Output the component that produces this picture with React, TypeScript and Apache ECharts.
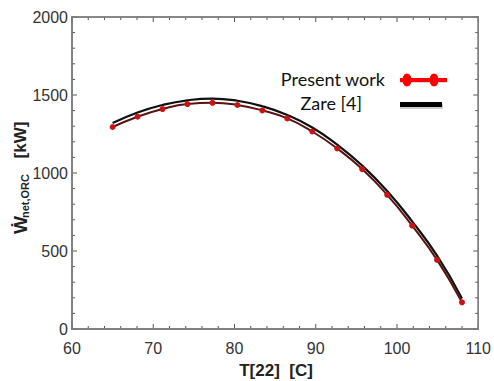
import React, { useEffect, useRef } from "react";
import * as echarts from "echarts";

const temperatures = [65, 68.07, 71.14, 74.21, 77.29, 80.36, 83.43, 86.5, 89.57, 92.64, 95.71, 98.79, 101.86, 104.93, 108];
const presentWork = [1295, 1361, 1410, 1442, 1450, 1436, 1401, 1350, 1266, 1157, 1025, 860, 663, 443, 171];
const zare = [1320, 1388, 1436, 1466, 1477, 1463, 1428, 1372, 1292, 1182, 1048, 885, 690, 470, 196];
const xRange = { min: 60, max: 110, interval: 10 };
const yRange = { min: 0, max: 2000, interval: 500 };
const xMinorStep = 2;
const yMinorStep = 100;

export default function App() {
  const ref = useRef<HTMLDivElement>(null);
  useEffect(() => {
    document.body.style.margin = "0";
    if (!ref.current) return;
    const chart = echarts.init(ref.current, null, { renderer: "svg" });
    const font = "Arial";

    const xTickVals: number[][] = [];
    for (let v = xRange.min; v <= xRange.max; v += xMinorStep) xTickVals.push([v, yRange.min]);
    const yTickVals: number[][] = [];
    for (let v = yRange.min; v <= yRange.max; v += yMinorStep) yTickVals.push([xRange.min, v]);

    const tickStyle = { stroke: "#555", lineWidth: 1 };

    chart.setOption({
      animation: false,
      grid: { left: 72, right: 14, top: 17, bottom: 52, show: true, borderColor: "#808080", borderWidth: 1.5 },
      xAxis: {
        type: "value", ...xRange,
        axisLine: { show: true, onZero: false, lineStyle: { color: "#808080", width: 1.5 } },
        axisTick: { show: false },
        splitLine: { show: false },
        axisLabel: { margin: 11, fontSize: 16, color: "#333", fontFamily: font, formatter: (v: number) => String(v) },
      },
      yAxis: {
        type: "value", ...yRange,
        axisLine: { show: true, onZero: false, lineStyle: { color: "#808080", width: 1.5 } },
        axisTick: { show: false },
        splitLine: { show: false },
        axisLabel: { margin: 4, fontSize: 16, color: "#333", fontFamily: font, formatter: (v: number) => String(v) },
      },
      series: [
        {
          name: "xTicks",
          type: "custom",
          silent: true,
          clip: false,
          data: xTickVals,
          renderItem: (params: any, api: any) => {
            const v = api.value(0);
            const x = api.coord([v, yRange.min])[0];
            const cs = params.coordSys;
            const len = v % 10 === 0 ? 5 : 3;
            return {
              type: "group",
              children: [
                { type: "line", shape: { x1: x, y1: cs.y + cs.height, x2: x, y2: cs.y + cs.height - len }, style: tickStyle },
                { type: "line", shape: { x1: x, y1: cs.y, x2: x, y2: cs.y + len }, style: tickStyle },
              ],
            };
          },
        },
        {
          name: "yTicks",
          type: "custom",
          silent: true,
          clip: false,
          data: yTickVals,
          renderItem: (params: any, api: any) => {
            const v = api.value(1);
            const y = api.coord([xRange.min, v])[1];
            const cs = params.coordSys;
            const len = v % 500 === 0 ? 5 : 3;
            return {
              type: "group",
              children: [
                { type: "line", shape: { x1: cs.x, y1: y, x2: cs.x + len, y2: y }, style: tickStyle },
                { type: "line", shape: { x1: cs.x + cs.width, y1: y, x2: cs.x + cs.width - len, y2: y }, style: tickStyle },
              ],
            };
          },
        },
        {
          name: "frame",
          type: "custom",
          silent: true,
          clip: false,
          data: [[xRange.min, yRange.min]],
          renderItem: (params: any) => {
            const cs = params.coordSys;
            return {
              type: "rect",
              shape: { x: cs.x, y: cs.y, width: cs.width, height: cs.height },
              style: { fill: "none", stroke: "#808080", lineWidth: 1.5 },
            };
          },
        },
        {
          name: "Zare [4]",
          type: "line",
          smooth: true,
          symbol: "none",
          data: temperatures.map((t, i) => [t, zare[i]]),
          lineStyle: { color: "#111", width: 2.2 },
        },
        {
          name: "Present work",
          type: "line",
          smooth: true,
          symbol: "circle",
          symbolSize: 6,
          data: temperatures.map((t, i) => [t, presentWork[i]]),
          lineStyle: { color: "#5a1212", width: 2 },
          itemStyle: { color: "#c81414", borderWidth: 0 },
        },
      ],
      graphic: [
        {
          type: "text", x: 20, y: 225, rotation: Math.PI / 2,
          style: { text: "Ẇ", align: "center", verticalAlign: "middle", fontSize: 19, fontWeight: "bold", fontFamily: font, fill: "#222" },
        },
        {
          type: "text", x: 25, y: 196, rotation: Math.PI / 2,
          style: { text: "net,ORC", align: "center", verticalAlign: "middle", fontSize: 11, fontWeight: "bold", fontFamily: font, fill: "#222" },
        },
        {
          type: "text", x: 20, y: 140, rotation: Math.PI / 2,
          style: { text: "[kW]", align: "center", verticalAlign: "middle", fontSize: 17, fontWeight: "bold", fontFamily: font, fill: "#222" },
        },
        {
          type: "text", x: 276, y: 370,
          style: { text: "T[22]  [C]", align: "center", verticalAlign: "middle", fontSize: 17, fontWeight: "bold", fontFamily: font, fill: "#222" },
        },
        {
          type: "text", x: 385, y: 79,
          style: { text: "Present work", align: "right", verticalAlign: "middle", fontSize: 18, fontFamily: "Lato", fill: "#111" },
        },
        {
          type: "text", x: 362, y: 103,
          style: { text: "Zare [4]", align: "right", verticalAlign: "middle", fontSize: 18, fontFamily: "Lato", fill: "#111" },
        },
        { type: "rect", shape: { x: 400, y: 79, width: 47, height: 4 }, style: { fill: "rgba(0,0,0,0.15)" } },
        { type: "rect", shape: { x: 400, y: 78, width: 47, height: 4 }, style: { fill: "#ff0000" } },
        { type: "ellipse", shape: { cx: 407, cy: 80, rx: 4.5, ry: 6.5 }, style: { fill: "#ff0000" } },
        { type: "ellipse", shape: { cx: 434, cy: 80, rx: 4.5, ry: 6.5 }, style: { fill: "#ff0000" } },
        { type: "rect", shape: { x: 400, y: 104, width: 43, height: 5 }, style: { fill: "rgba(0,0,0,0.2)" } },
        { type: "rect", shape: { x: 400, y: 102, width: 42, height: 5 }, style: { fill: "#000" } },
      ],
    });
    return () => chart.dispose();
  }, []);
  return <div ref={ref} style={{ width: 494, height: 381 }} />;
}
